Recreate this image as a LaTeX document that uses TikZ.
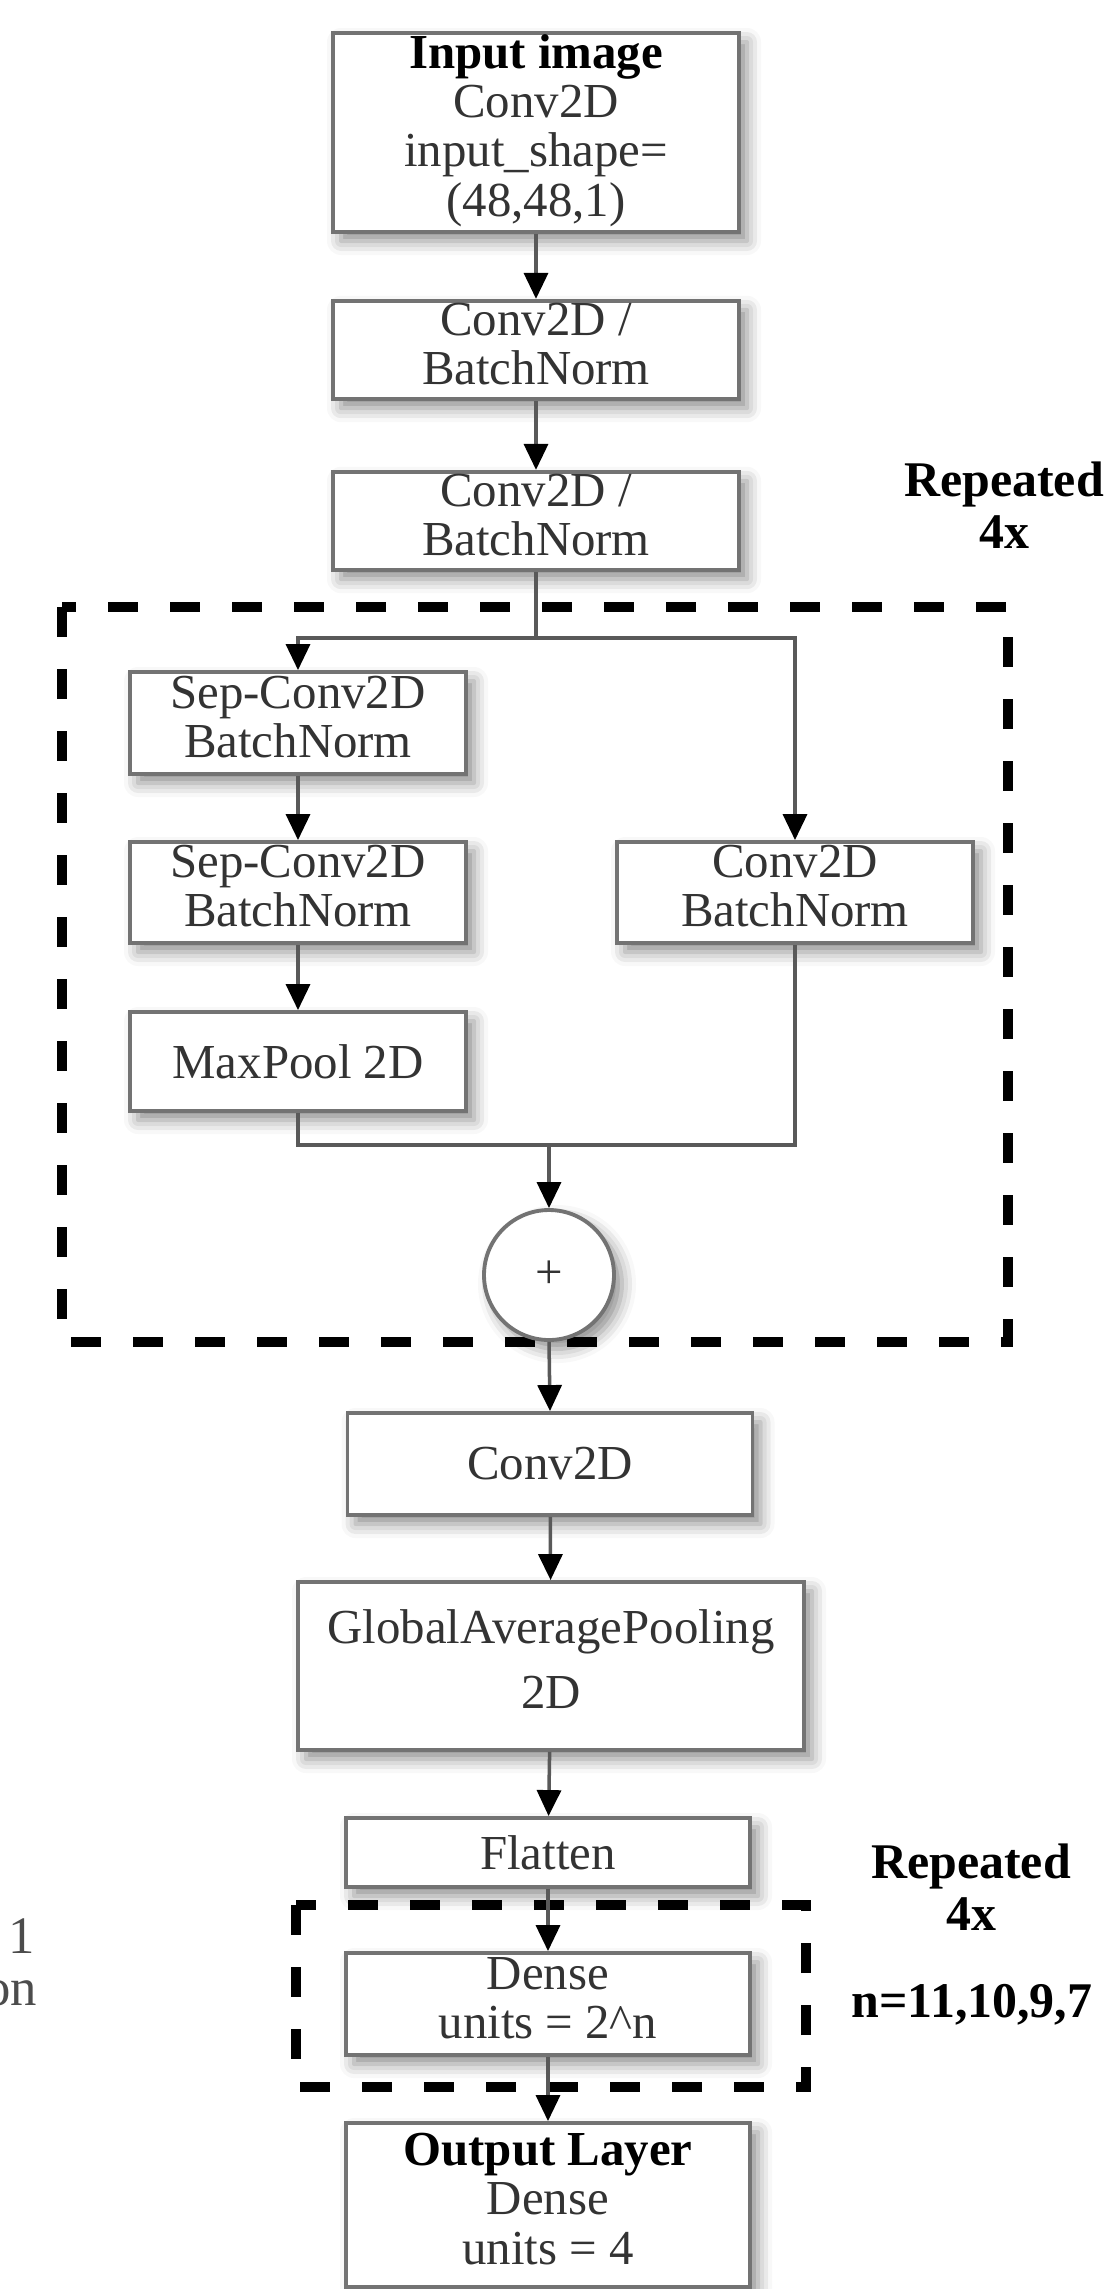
\documentclass[tikz,border=0pt]{standalone}
\usepackage{fontspec}
\setmainfont{Liberation Serif}
\usetikzlibrary{arrows.meta,shadows.blur}
\tikzset{
    layerbox/.style={draw=black!55, line width=1.1pt, fill=white, inner sep=0pt, text=black!80,
        blur shadow={shadow xshift=0.8mm, shadow yshift=-0.9mm, shadow blur radius=1.4mm, shadow opacity=45},
        font=\fontsize{13.9}{14}\selectfont}, % every layer of the network
    repeatbox/.style={draw=black, line width=2.6pt, dash pattern=on 0.3cm off 0.32cm}, % repeated blocks
    repnote/.style={font=\fontsize{14.2}{14.8}\selectfont\bfseries, align=center, inner sep=0pt},
}
\tikzstyle{flow} = [draw=black!65, line width=1pt]
\tikzstyle{flowarrow} = [flow, -{Triangle[width=0.24cm, length=0.26cm, color=black]}]

\begin{document}
\begin{tikzpicture}
    \useasboundingbox (0,0) rectangle (11.14,-22.89);

    % Cornici dei blocchi ripetuti
    \draw[repeatbox] (0.62,-6.07) rectangle (10.08,-13.42);
    \draw[repeatbox] (2.96,-19.05) rectangle (8.06,-20.87);

    % Ingresso
    \node[layerbox, minimum width=4.06cm, minimum height=1.99cm] (inp) at (5.36,-1.325) {\begin{tabular}{c}
                     \textbf{\color{black}Input image} \\
                     Conv2D \\
                     input\_shape= \\
                     (48,48,1)
                     \end{tabular}};
    \node[layerbox, minimum width=4.06cm, minimum height=0.96cm] (cbn1) at (5.36,-3.50) {\begin{tabular}{c}
                     Conv2D / \\
                     BatchNorm
                     \end{tabular}};
    \node[layerbox, minimum width=4.06cm, minimum height=0.98cm] (cbn2) at (5.36,-5.21) {\begin{tabular}{c}
                     Conv2D / \\
                     BatchNorm
                     \end{tabular}};
    \node[repnote] (rep1) at (10.04,-5.05) {Repeated\\4x};

    % Blocco residuo
    \node[layerbox, minimum width=3.36cm, minimum height=1.02cm] (sep1) at (2.98,-7.23) {\begin{tabular}{c}
                     Sep-Conv2D \\
                     BatchNorm
                     \end{tabular}};
    \node[layerbox, minimum width=3.36cm, minimum height=1.01cm] (sep2) at (2.98,-8.925) {\begin{tabular}{c}
                     Sep-Conv2D \\
                     BatchNorm
                     \end{tabular}};
    \node[layerbox, minimum width=3.36cm, minimum height=0.99cm] (pool) at (2.98,-10.615) {MaxPool 2D};
    \node[layerbox, minimum width=3.56cm, minimum height=1.01cm] (convr) at (7.95,-8.925) {\begin{tabular}{c}
                     Conv2D \\
                     BatchNorm
                     \end{tabular}};
    \node[layerbox, circle, minimum size=1.30cm] (add) at (5.49,-12.75) {+};
    \coordinate (split) at (5.36,-6.38);
    \coordinate (join) at (5.49,-11.45);

    % Coda della rete
    \node[layerbox, minimum width=4.05cm, minimum height=1.02cm] (conv) at (5.50,-14.64) {Conv2D};
    \node[layerbox, minimum width=5.06cm, minimum height=1.68cm] (gap) at (5.51,-16.66) {\begin{tabular}{c}
                     GlobalAveragePooling \\[0.16cm]
                     2D
                     \end{tabular}};
    \node[layerbox, minimum width=4.04cm, minimum height=0.69cm] (flat) at (5.48,-18.525) {Flatten};
    \node[layerbox, minimum width=4.04cm, minimum height=1.02cm] (dense) at (5.48,-20.04) {\begin{tabular}{c}
                     Dense \\
                     units = 2\textasciicircum n
                     \end{tabular}};
    \node[layerbox, minimum width=4.04cm, minimum height=1.64cm] (out) at (5.48,-22.05) {\begin{tabular}{c}
                     \textbf{\color{black}Output Layer} \\
                     Dense \\
                     units = 4
                     \end{tabular}};
    \node[repnote] (rep2) at (9.71,-18.87) {Repeated\\4x};
    \node[repnote] (nlist) at (9.72,-20.05) {n=11,10,9,7};

    % Frammenti di testo al bordo sinistro
    \node[anchor=east, inner sep=0pt, text=black!70, font=\fontsize{15}{15}\selectfont] (frag1) at (0.36,-19.36) {1};
    \node[anchor=east, inner sep=0pt, text=black!70, font=\fontsize{15}{15}\selectfont] (frag2) at (0.38,-19.93) {on};

    % Frecce
    \draw[flowarrow] (inp) -- (cbn1);
    \draw[flowarrow] (cbn1) -- (cbn2);
    \draw[flow] (cbn2.south) -- (split);
    \draw[flowarrow] (split) -| (sep1.north);
    \draw[flowarrow] (split) -| (convr.north);
    \draw[flowarrow] (sep1) -- (sep2);
    \draw[flowarrow] (sep2) -- (pool);
    \draw[flow] (pool.south) |- (join) -| (convr.south);
    \draw[flowarrow] (join) -- (add.north);
    \draw[flowarrow] (add.south) -- (conv.north);
    \draw[flowarrow] (conv) -- (gap);
    \draw[flowarrow] (gap) -- (flat);
    \draw[flowarrow] (flat) -- (dense);
    \draw[flowarrow] (dense) -- (out);
\end{tikzpicture}
\end{document}
